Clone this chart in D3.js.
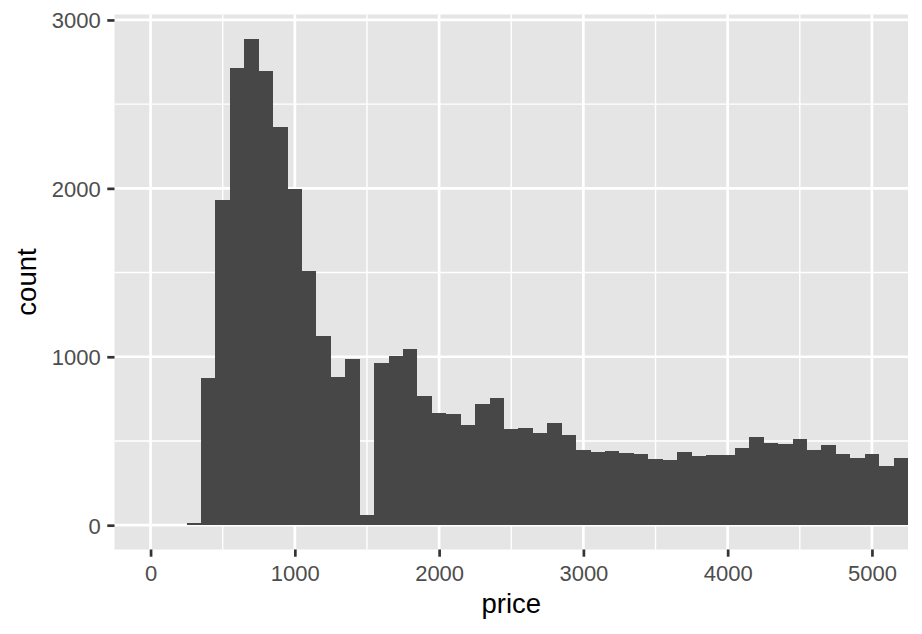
<!DOCTYPE html>
<html>
<head>
<meta charset="utf-8">
<script src="https://cdn.jsdelivr.net/npm/d3@7"></script>
<style>
  html, body { margin: 0; padding: 0; background: #ffffff; }
  svg { display: block; font-family: "Liberation Sans", Arial, Helvetica, sans-serif; }
</style>
</head>
<body>
<svg id="chart" width="922" height="634"></svg>
<script>
// ---- data (diamonds price histogram, binwidth 100) ----
const binCenters = [300, 400, 500, 600, 700, 800, 900, 1000, 1100, 1200,
  1300, 1400, 1500, 1600, 1700, 1800, 1900, 2000, 2100, 2200,
  2300, 2400, 2500, 2600, 2700, 2800, 2900, 3000, 3100, 3200,
  3300, 3400, 3500, 3600, 3700, 3800, 3900, 4000, 4100, 4200,
  4300, 4400, 4500, 4600, 4700, 4800, 4900, 5000, 5100, 5200];
const counts = [14, 873, 1931, 2715, 2888, 2698, 2365, 1996, 1509, 1123,
  879, 986, 59, 963, 1004, 1046, 767, 665, 660, 594,
  719, 755, 570, 576, 547, 606, 535, 446, 434, 440,
  428, 422, 392, 386, 434, 410, 416, 416, 457, 523,
  487, 481, 511, 446, 475, 422, 398, 422, 351, 398];
const binWidth = 100;
const xLimits = [0, 5000];
const xTicks = [0, 1000, 2000, 3000, 4000, 5000];
const xMinor = [500, 1500, 2500, 3500, 4500];
const yTicks = [0, 1000, 2000, 3000];
const yMinor = [500, 1500, 2500];
const xTitle = "price";
const yTitle = "count";

// ---- layout ----
const panel = { left: 114.5, right: 908, top: 14.5, bottom: 549.5 };
const svg = d3.select("#chart");

const xPad = (xLimits[1] - xLimits[0]) * 0.05;
const x = d3.scaleLinear()
  .domain([xLimits[0] - xPad, xLimits[1] + xPad])
  .range([panel.left, panel.right]);
const yMax = d3.max(counts);
const y = d3.scaleLinear()
  .domain([-0.05 * yMax, 1.05 * yMax])
  .range([panel.bottom, panel.top]);

// panel background
svg.append("rect")
  .attr("x", panel.left).attr("y", panel.top)
  .attr("width", panel.right - panel.left)
  .attr("height", panel.bottom - panel.top)
  .attr("fill", "#E5E5E5");

const grid = svg.append("g");
// minor grid
grid.selectAll("line.xminor").data(xMinor).join("line")
  .attr("class", "xminor")
  .attr("x1", d => x(d)).attr("x2", d => x(d))
  .attr("y1", panel.top).attr("y2", panel.bottom)
  .attr("stroke", "#fff").attr("stroke-width", 1.4);
grid.selectAll("line.yminor").data(yMinor).join("line")
  .attr("class", "yminor")
  .attr("y1", d => y(d)).attr("y2", d => y(d))
  .attr("x1", panel.left).attr("x2", panel.right)
  .attr("stroke", "#fff").attr("stroke-width", 1.4);
// major grid
grid.selectAll("line.xmajor").data(xTicks).join("line")
  .attr("class", "xmajor")
  .attr("x1", d => x(d)).attr("x2", d => x(d))
  .attr("y1", panel.top).attr("y2", panel.bottom)
  .attr("stroke", "#fff").attr("stroke-width", 2.7);
grid.selectAll("line.ymajor").data(yTicks).join("line")
  .attr("class", "ymajor")
  .attr("y1", d => y(d)).attr("y2", d => y(d))
  .attr("x1", panel.left).attr("x2", panel.right)
  .attr("stroke", "#fff").attr("stroke-width", 2.7);

// clip
svg.append("clipPath").attr("id", "clip")
  .append("rect")
  .attr("x", panel.left).attr("y", panel.top)
  .attr("width", panel.right - panel.left)
  .attr("height", panel.bottom - panel.top);

// bars
svg.append("g").attr("clip-path", "url(#clip)")
  .selectAll("rect").data(binCenters).join("rect")
  .attr("x", (d) => x(d - binWidth / 2))
  .attr("width", (d) => x(d + binWidth / 2) - x(d - binWidth / 2))
  .attr("y", (d, i) => y(counts[i]))
  .attr("height", (d, i) => y(0) - y(counts[i]))
  .attr("fill", "#474747")
  .attr("shape-rendering", "crispEdges");

// axes
const tickLen = 7.2;
const xAxis = d3.axisBottom(x).tickValues(xTicks).tickSize(tickLen).tickPadding(5.5).tickFormat(d3.format("d"));
const yAxis = d3.axisLeft(y).tickValues(yTicks).tickSize(tickLen).tickPadding(6.5).tickFormat(d3.format("d"));

const gx = svg.append("g").attr("transform", `translate(0,${panel.bottom})`).call(xAxis);
const gy = svg.append("g").attr("transform", `translate(${panel.left},0)`).call(yAxis);
[gx, gy].forEach(g => {
  g.select(".domain").remove();
  g.selectAll(".tick line").attr("stroke", "#333333").attr("stroke-width", 2.7);
  g.selectAll(".tick text").attr("fill", "#4D4D4D")
    .attr("font-size", 22)
    .attr("font-family", "'Liberation Sans', Arial, sans-serif");
});
gx.selectAll(".tick text").attr("dy", null)
  .attr("y", 580.5 - panel.bottom);
gy.selectAll(".tick text").attr("dy", "0.36em");

// titles
svg.append("text")
  .attr("x", (panel.left + panel.right) / 2)
  .attr("y", 613)
  .attr("text-anchor", "middle")
  .attr("font-size", 27.5)
  .attr("fill", "#000")
  .text(xTitle);
svg.append("text")
  .attr("transform", `translate(36,${(panel.top + panel.bottom) / 2}) rotate(-90)`)
  .attr("text-anchor", "middle")
  .attr("font-size", 27.5)
  .attr("fill", "#000")
  .text(yTitle);
</script>
</body>
</html>
